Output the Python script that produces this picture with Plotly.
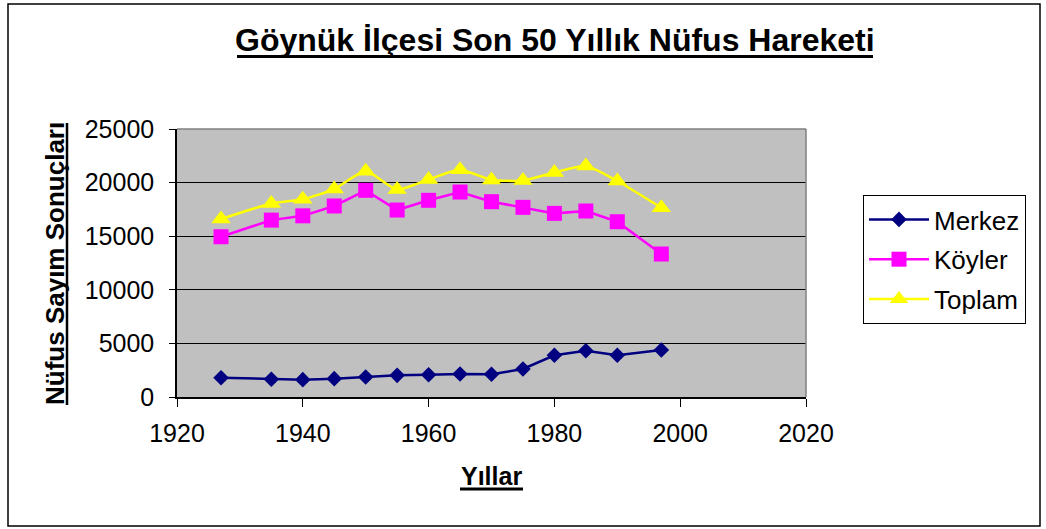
import plotly.graph_objects as go

years = [1927, 1935, 1940, 1945, 1950, 1955, 1960, 1965, 1970, 1975, 1980, 1985, 1990, 1997]
merkez = [1800, 1650, 1620, 1710, 1860, 2020, 2080, 2140, 2120, 2610, 3890, 4320, 3890, 4390]
koyler = [14950, 16500, 16900, 17820, 19280, 17440, 18350, 19120, 18220, 17690, 17130, 17350, 16350, 13340]
toplam = [16600, 18050, 18450, 19400, 21050, 19350, 20300, 21200, 20250, 20200, 20950, 21550, 20150, 17650]

title_text = "Göynük İlçesi Son 50 Yıllık Nüfus Hareketi"
x_title = "Yıllar"
y_title = "Nüfus Sayım Sonuçları"
series_names = ["Merkez", "Köyler", "Toplam"]

FONT = "Liberation Sans, Arial, sans-serif"

fig = go.Figure()
fig.add_trace(go.Scatter(x=years, y=merkez, name=series_names[0], mode="lines+markers",
                         line=dict(color="#000080", width=2.5),
                         marker=dict(symbol="diamond", size=12, color="#000080"),
                         legendgroup="a"))
fig.add_trace(go.Scatter(x=years, y=koyler, name=series_names[1], mode="lines+markers",
                         line=dict(color="#FF00FF", width=2.5),
                         marker=dict(symbol="square", size=15, color="#FF00FF"),
                         legendgroup="b"))
fig.add_trace(go.Scatter(x=years, y=toplam, name=series_names[2], mode="lines+markers",
                         line=dict(color="#FFFF00", width=2.5, shape="spline", smoothing=0.6),
                         marker=dict(symbol="triangle-up", size=17, color="#FFFF00"),
                         legendgroup="c"))

W, H = 1046, 529
L, R, T, B = 177, 1046 - 806, 129, 529 - 397
pw, ph = W - L - R, H - T - B

def px(x):
    return (x - L) / pw

def py(y):
    return (H - B - y) / ph

fig.update_layout(
    width=W, height=H,
    margin=dict(l=L, r=R, t=T, b=B),
    paper_bgcolor="white",
    plot_bgcolor="#C0C0C0",
    font=dict(family=FONT, size=25, color="black"),
    showlegend=True,
    legend=dict(x=px(863), y=py(195), xanchor="left", yanchor="top",
                bordercolor="black", borderwidth=1, bgcolor="white",
                font=dict(size=26, family=FONT), itemwidth=60,
                traceorder="grouped", tracegroupgap=3),
)
fig.update_xaxes(range=[1920, 2020], dtick=20, tick0=1920, tickformat="d",
                 showgrid=False, zeroline=False,
                 showline=True, linecolor="black", linewidth=1.5,
                 ticks="outside", ticklen=8, tickcolor="black",
                 tickfont=dict(size=25), ticklabelstandoff=5, mirror=False)
fig.update_yaxes(range=[0, 25000], dtick=5000, tickformat="d",
                 showgrid=True, gridcolor="black", gridwidth=1,
                 zeroline=False,
                 showline=True, linecolor="black", linewidth=1.5,
                 ticks="outside", ticklen=6, tickcolor="black",
                 tickfont=dict(size=25), ticklabelstandoff=10)

shapes = [
    # outer chart border
    dict(type="rect", xref="paper", yref="paper", x0=px(8), x1=px(1040), y0=py(526), y1=py(4),
         line=dict(color="black", width=1.5), fillcolor="rgba(0,0,0,0)", layer="below"),
    # gray plot border top/right
    dict(type="line", xref="paper", yref="paper", x0=0, x1=1, y0=1, y1=1,
         line=dict(color="#808080", width=1.5)),
    dict(type="line", xref="paper", yref="paper", x0=1, x1=1, y0=0, y1=1,
         line=dict(color="#808080", width=1.5)),
    # underlines
    dict(type="line", xref="paper", yref="paper", x0=px(237), x1=px(873), y0=py(56.5), y1=py(56.5),
         line=dict(color="black", width=3)),
    dict(type="line", xref="paper", yref="paper", x0=px(460), x1=px(523), y0=py(489), y1=py(489),
         line=dict(color="black", width=3)),
    dict(type="line", xref="paper", yref="paper", x0=px(67), x1=px(67), y0=py(405), y1=py(123),
         line=dict(color="black", width=2.5)),
]
fig.update_layout(shapes=shapes)

fig.add_annotation(text="<b>" + title_text + "</b>", xref="paper", yref="paper",
                   x=px(555), y=py(40), xanchor="center", yanchor="middle",
                   showarrow=False, font=dict(size=32, family=FONT))
fig.add_annotation(text="<b>" + x_title + "</b>", xref="paper", yref="paper",
                   x=px(492), y=py(476), xanchor="center", yanchor="middle",
                   showarrow=False, font=dict(size=25, family=FONT))
fig.add_annotation(text="<b>" + y_title + "</b>", xref="paper", yref="paper",
                   x=px(55), y=py(264), xanchor="center", yanchor="middle",
                   textangle=-90, showarrow=False, font=dict(size=26, family=FONT))

fig.write_html("out.html", config={"displayModeBar": False},
               post_script="document.body.style.margin='0';document.body.style.overflow='hidden';")
